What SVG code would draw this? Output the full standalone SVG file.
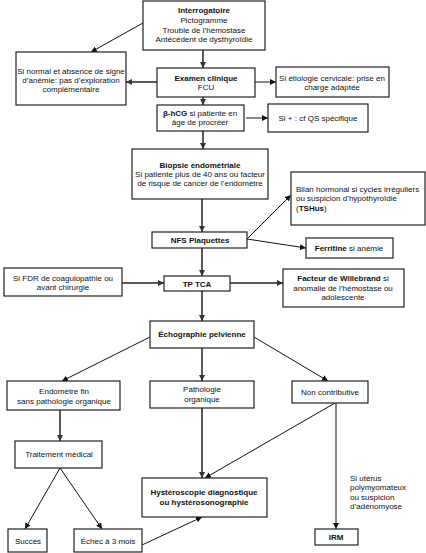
<svg xmlns="http://www.w3.org/2000/svg" width="426" height="553" viewBox="0 0 426 553">
<defs>
<style>
.box{fill:#fff;stroke:#222;stroke-width:1.2}
text{font-family:"Liberation Sans",Arial,sans-serif;font-size:8px;fill:#111}
.c{text-anchor:middle}
.b{font-weight:bold}
.g{stroke:#5a5a5a;stroke-width:2;fill:none;marker-end:url(#ag)}
.k{stroke:#111;stroke-width:1;fill:none;marker-end:url(#ak)}
</style>
<marker id="ag" viewBox="0 0 10 10" refX="10" refY="5" markerWidth="6" markerHeight="6" markerUnits="userSpaceOnUse" orient="auto"><path d="M0,0 L10,5 L0,10 z" fill="#333"/></marker>
<marker id="ak" viewBox="0 0 10 10" refX="10" refY="5" markerWidth="6" markerHeight="6" markerUnits="userSpaceOnUse" orient="auto"><path d="M0,0 L10,5 L0,10 z" fill="#111"/></marker>
</defs>
<rect width="426" height="553" fill="#fff"/>
<g id="connectors">
<path class="g" d="M203,50 V68"/>
<path class="k" d="M143,23 L91,52"/>
<path class="g" d="M157,82 H126"/>
<path class="k" d="M255,82 H276"/>
<path class="g" d="M203,97 V105"/>
<path class="k" d="M246,118 H268"/>
<path class="g" d="M203,131 V149"/>
<path class="g" d="M202,199 V232"/>
<path class="k" d="M247,239 L291,195"/>
<path class="k" d="M247,239 L306,248"/>
<path class="g" d="M202,248 V276"/>
<path class="g" d="M122,283 H164"/>
<path class="g" d="M230,283 H283"/>
<path class="g" d="M202,291 V321"/>
<path class="k" d="M150,337 L62,381"/>
<path class="g" d="M202,348 V381"/>
<path class="k" d="M254,337 L328,381"/>
<path class="g" d="M60,410 V441"/>
<path class="k" d="M60,468 L25,529"/>
<path class="k" d="M60,468 L102,529"/>
<path class="g" d="M202,408 V478"/>
<path class="k" d="M335,403 L205,478"/>
<path class="k" d="M336,403 V529"/>
<path class="k" d="M142,545 L202,517"/>
</g>
<g id="interrogatoire"><rect class="box" x="143" y="1" width="122" height="49"/>
<text class="c b" x="204" y="13">Interrogatoire</text>
<text class="c" x="204" y="23">Pictogramme</text>
<text class="c" x="204" y="32.5">Trouble de l’hémostase</text>
<text class="c" x="204" y="42">Antécédent de dysthyroïdie</text></g>
<g id="si-normal"><rect class="box" x="16" y="52" width="110" height="53"/>
<text class="c" x="71" y="74">Si normal et absence de signe</text>
<text class="c" x="71" y="83">d’anémie: pas d’exploration</text>
<text class="c" x="71" y="92">complémentaire</text></g>
<g id="examen"><rect class="box" x="157" y="68" width="98" height="29"/>
<text class="c b" x="206" y="81">Examen clinique</text>
<text class="c" x="206" y="90">FCU</text></g>
<g id="etiologie"><rect class="box" x="276" y="67" width="113" height="30"/>
<text class="c" x="332" y="81">Si étiologie cervicale: prise en</text>
<text class="c" x="332" y="90">charge adaptée</text></g>
<g id="bhcg"><rect class="box" x="157" y="105" width="87" height="26"/>
<text class="c" x="200" y="116"><tspan class="b">β-hCG</tspan> si patiente en</text>
<text class="c" x="200" y="125">âge de procréer</text></g>
<g id="si-plus"><rect class="box" x="268" y="104" width="100" height="28"/>
<text class="c" x="318" y="121">Si + : cf QS spécifique</text></g>
<g id="biopsie"><rect class="box" x="132" y="149" width="136" height="50"/>
<text class="c b" x="200" y="168">Biopsie endométriale</text>
<text class="c" x="200" y="177">Si patiente plus de 40 ans ou facteur</text>
<text class="c" x="200" y="186">de risque de cancer de l’endomètre</text></g>
<g id="nfs"><rect class="box" x="152" y="232" width="95" height="16"/>
<text class="c b" x="200" y="243">NFS Plaquettes</text></g>
<g id="bilan"><rect class="box" x="291" y="172" width="134" height="53"/>
<text x="296" y="192">Bilan hormonal si cycles irréguliers</text>
<text x="296" y="201">ou suspicion d’hypothyroïdie</text>
<text x="296" y="211">(<tspan class="b">TSHus</tspan>)</text></g>
<g id="ferritine"><rect class="box" x="306" y="238" width="87" height="20"/>
<text class="c" x="349" y="251"><tspan class="b">Ferritine</tspan> si anémie</text></g>
<g id="si-fdr"><rect class="box" x="4" y="268" width="118" height="28"/>
<text class="c" x="63" y="281">Si FDR de coagulopathie ou</text>
<text class="c" x="63" y="290">avant chirurgie</text></g>
<g id="tptca"><rect class="box" x="164" y="276" width="66" height="15"/>
<text class="c b" x="197" y="286.5">TP TCA</text></g>
<g id="willebrand"><rect class="box" x="283" y="269" width="121" height="38"/>
<text class="c" x="343" y="281"><tspan class="b">Facteur de Willebrand</tspan> si</text>
<text class="c" x="343" y="291">anomalie de l’hémostase ou</text>
<text class="c" x="343" y="300">adolescente</text></g>
<g id="echographie"><rect class="box" x="150" y="321" width="104" height="27"/>
<text class="c b" x="202" y="337">Échographie pelvienne</text></g>
<g id="endometre"><rect class="box" x="7" y="381" width="113" height="29"/>
<text class="c" x="64" y="394">Endomètre fin</text>
<text class="c" x="64" y="404">sans pathologie organique</text></g>
<g id="pathologie"><rect class="box" x="150" y="381" width="104" height="27"/>
<text class="c" x="202" y="392">Pathologie</text>
<text class="c" x="202" y="402">organique</text></g>
<g id="non-contributive"><rect class="box" x="292" y="381" width="76" height="22"/>
<text class="c" x="330" y="395">Non contributive</text></g>
<g id="traitement"><rect class="box" x="15" y="441" width="87" height="27"/>
<text class="c" x="59" y="457">Traitement médical</text></g>
<g id="succes"><rect class="box" x="8" y="529" width="39" height="23"/>
<text class="c" x="28" y="544">Succès</text></g>
<g id="echec"><rect class="box" x="74" y="529" width="68" height="23"/>
<text class="c" x="108" y="544">Échec à 3 mois</text></g>
<g id="hysteroscopie"><rect class="box" x="142" y="478" width="125" height="39"/>
<text class="c b" x="204" y="495">Hystéroscopie diagnostique</text>
<text class="c b" x="204" y="505">ou hystérosonographie</text></g>
<g id="irm"><rect class="box" x="315" y="529" width="43" height="16"/>
<text class="c b" x="336" y="540">IRM</text></g>
<g id="label-irm">
<text x="350" y="481">Si utérus</text>
<text x="350" y="490">polymyomateux</text>
<text x="350" y="500">ou suspicion</text>
<text x="350" y="509">d’adénomyose</text></g>
</svg>
